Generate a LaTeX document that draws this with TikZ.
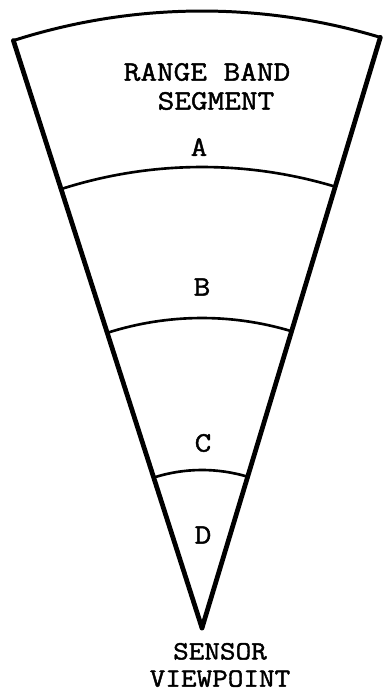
\documentclass[tikz,border=0pt]{standalone}
\usepackage{fontspec}
\newfontfamily\lblfont[FakeStretch=1.15,FakeBold=1.6]{Latin Modern Mono}
\begin{document}
\begin{tikzpicture}[x=0.02cm,y=0.02cm,
  edge/.style={line width=2.7pt,line cap=round},
  band/.style={line width=1.5pt},
  lbl/.style={font=\lblfont\fontsize{16}{17}\selectfont,inner sep=0pt,align=center}]
\useasboundingbox (0,0) rectangle (383,691);
\coordinate (apex) at (202,63);
\draw [edge] (apex) -- ++(107.8:617) coordinate (tl);
\draw [edge] (apex) -- ++(73.2:617) coordinate (tr);
\draw [band,line width=1.7pt] (tl) arc [start angle=107.8, end angle=73.2, radius=617];
\draw [band] (apex) ++(107.8:461) arc [start angle=107.8, end angle=73.2, radius=461];
\draw [band] (apex) ++(107.8:310) arc [start angle=107.8, end angle=73.2, radius=310];
\draw [band] (apex) ++(107.8:158) arc [start angle=107.8, end angle=73.2, radius=158];
\node [lbl] (range) at (207,619) {RANGE BAND};
\node [lbl] (segment) at (216,590) {SEGMENT};
\node [lbl] (a) at (199,544) {A};
\node [lbl] (b) at (202,404) {B};
\node [lbl] (c) at (203,248) {C};
\node [lbl] (d) at (203,156) {D};
\node [lbl,font=\lblfont\fontsize{15}{15.5}\selectfont] (sensor) at (220,26) {SENSOR\\VIEWPOINT};
\end{tikzpicture}
\end{document}
